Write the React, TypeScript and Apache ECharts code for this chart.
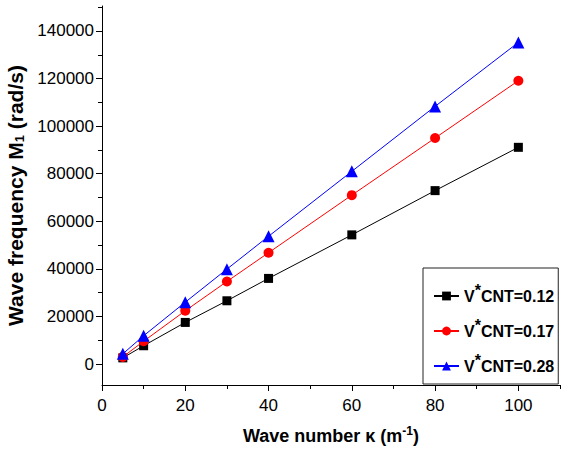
import React, { useEffect, useRef } from "react";
import * as echarts from "echarts";

const xValues = [5, 10, 20, 30, 40, 60, 80, 100];
const seriesNames = ["V*CNT=0.12", "V*CNT=0.17", "V*CNT=0.28"];
const cnt012 = [2600, 7700, 17500, 26600, 36000, 54300, 72900, 91100];
const cnt017 = [3000, 9600, 22400, 34700, 46800, 71000, 95000, 119100];
const cnt028 = [4300, 11900, 26000, 39900, 53700, 81000, 108300, 135200];
const xTickLabels = [0, 20, 40, 60, 80, 100];
const xMinorTicks = [10, 30, 50, 70, 90, 110];
const yTickLabels = [0, 20000, 40000, 60000, 80000, 100000, 120000, 140000];
const yMinorTicks = [10000, 30000, 50000, 70000, 90000, 110000, 130000, 150000];

const FONT = "Arial, 'Liberation Sans', sans-serif";

export default function App() {
  const ref = useRef<HTMLDivElement>(null);
  useEffect(() => {
    document.body.style.margin = "0";
    const chart = echarts.init(ref.current!, null, { renderer: "svg" });
    const yMin = -8800;
    const yMax = 150500;
    const xMin = 0;
    const xMax = 110;
    const styles = [
      { color: "#000000", symbol: "rect", size: 9 },
      { color: "#ff0000", symbol: "circle", size: 10 },
      { color: "#0000ff", symbol: "triangle", size: 12 },
    ];
    const datasets = [cnt012, cnt017, cnt028];
    chart.setOption({
      animation: false,
      textStyle: { fontFamily: FONT },
      grid: { left: 102, right: 3, top: 6, bottom: 77, containLabel: false, outerBoundsMode: "none" },
      legend: {
        orient: "vertical",
        left: 423,
        top: 268,
        padding: [14, 4, 6, 10],
        itemGap: 9,
        itemWidth: 25,
        itemHeight: 11,
        borderColor: "#222",
        borderWidth: 1,
        data: seriesNames,
        formatter: (name: string) => `V{s|*}CNT=${name.split("=")[1]}`,
        textStyle: {
          fontFamily: FONT,
          fontSize: 16,
          fontWeight: "bold",
          color: "#000",
          lineHeight: 24,
          rich: {
            s: {
              fontFamily: FONT,
              fontSize: 16,
              fontWeight: "bold",
              color: "#000",
              padding: [0, 0, 12, 0],
            },
          },
        },
      },
      xAxis: [
        {
          type: "value",
          min: xMin,
          max: xMax,
          name: "Wave number κ (m{sup|-1})",
          nameLocation: "middle",
          nameGap: 40,
          nameTextStyle: {
            fontFamily: FONT,
            fontSize: 18,
            fontWeight: "bold",
            color: "#000",
            rich: {
              sup: { fontFamily: FONT, fontSize: 12, fontWeight: "bold", color: "#000", padding: [0, 0, 10, 0] },
            },
          },
          axisLine: { show: true, onZero: false, lineStyle: { color: "#000", width: 1 } },
          axisTick: { show: true, inside: false, length: 6, customValues: xTickLabels, lineStyle: { color: "#000" } },
          axisLabel: { customValues: xTickLabels, margin: 12, fontSize: 17, color: "#000", fontFamily: FONT },
          splitLine: { show: false },
        },
        {
          type: "value",
          min: xMin,
          max: xMax,
          position: "bottom",
          axisLine: { show: false, onZero: false },
          axisTick: { show: true, inside: false, length: 4, customValues: xMinorTicks, lineStyle: { color: "#000" } },
          axisLabel: { show: false },
          splitLine: { show: false },
        },
      ],
      yAxis: [
        {
          type: "value",
          min: yMin,
          max: yMax,
          name: "Wave frequency M{sub|1} (rad/s)",
          nameLocation: "middle",
          nameRotate: 90,
          nameGap: 72,
          nameTextStyle: {
            fontFamily: FONT,
            fontSize: 21,
            fontWeight: "bold",
            color: "#000",
            rich: {
              sub: { fontFamily: FONT, fontSize: 13, fontWeight: "bold", color: "#000", padding: [9, 0, 0, 0] },
            },
          },
          axisLine: { show: true, onZero: false, lineStyle: { color: "#000", width: 1 } },
          axisTick: { show: true, inside: false, length: 6, customValues: yTickLabels, lineStyle: { color: "#000" } },
          axisLabel: {
            customValues: yTickLabels,
            formatter: (v: number) => String(v),
            margin: 8,
            fontSize: 17,
            color: "#000",
            fontFamily: FONT,
          },
          splitLine: { show: false },
        },
        {
          type: "value",
          min: yMin,
          max: yMax,
          position: "left",
          axisLine: { show: false, onZero: false },
          axisTick: { show: true, inside: false, length: 4, customValues: yMinorTicks, lineStyle: { color: "#000" } },
          axisLabel: { show: false },
          splitLine: { show: false },
        },
      ],
      series: datasets.map((d, i) => ({
        name: seriesNames[i],
        type: "line",
        xAxisIndex: 0,
        yAxisIndex: 0,
        data: xValues.map((x, j) => [x, d[j]]),
        symbol: styles[i].symbol,
        symbolSize: styles[i].size,
        showAllSymbol: true,
        color: styles[i].color,
        itemStyle: { color: styles[i].color },
        lineStyle: { color: styles[i].color, width: 1 },
        z: 2 + i,
      })),
    });
    return () => chart.dispose();
  }, []);
  return <div ref={ref} style={{ width: 563, height: 462 }} />;
}
